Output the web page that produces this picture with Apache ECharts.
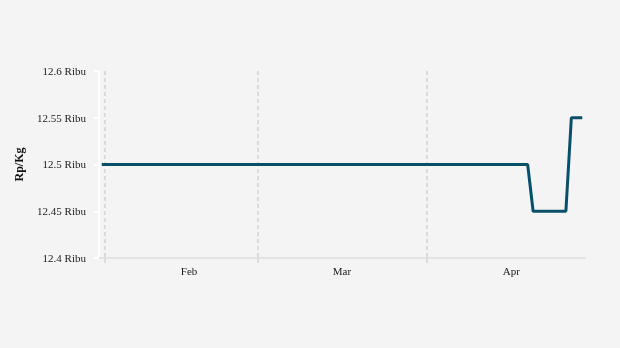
<!DOCTYPE html>
<html>
<head>
<meta charset="utf-8">
<script src="https://cdn.jsdelivr.net/npm/echarts@6/dist/echarts.min.js"></script>
<style>
  html, body { margin: 0; padding: 0; background: #f4f4f4; }
  #chart { width: 620px; height: 348px; }
</style>
</head>
<body>
<div id="chart"></div>
<script>
// Daily dates (Jan 31 – Apr 29, 2023)
const startDate = '2023-01-31';
const endDate = '2023-04-29';
const monthNames = ['Jan','Feb','Mar','Apr','May','Jun','Jul','Aug','Sep','Oct','Nov','Dec'];
// Price segments (Ribu Rp/Kg)
const priceRuns = [
  { from: '2023-01-31', to: '2023-04-19', value: 12.5 },
  { from: '2023-04-20', to: '2023-04-26', value: 12.45 },
  { from: '2023-04-27', to: '2023-04-29', value: 12.55 }
];
const yTicks = [12.4, 12.45, 12.5, 12.55, 12.6];

function ymd(d) {
  const m = String(d.getUTCMonth() + 1).padStart(2, '0');
  const day = String(d.getUTCDate()).padStart(2, '0');
  return d.getUTCFullYear() + '-' + m + '-' + day;
}
function dayList(from, extraDays) {
  const out = [];
  const d = new Date(from + 'T00:00:00Z');
  const end = new Date(endDate + 'T00:00:00Z');
  end.setUTCDate(end.getUTCDate() + extraDays);
  for (; d <= end; d.setUTCDate(d.getUTCDate() + 1)) out.push(ymd(d));
  return out;
}
// data days (band centres) and day boundaries (midnights, one more than days)
const dates = dayList(startDate, 0);
const boundaries = dayList(startDate, 1);
const prices = dates.map(function (ds) {
  for (const r of priceRuns) {
    if (ds >= r.from && ds <= r.to) return r.value;
  }
  return null;
});
function dayOf(ds) { return parseInt(ds.slice(8, 10), 10); }
function isMonthStart(i, v) { return dayOf(v) === 1; }

const chart = echarts.init(document.getElementById('chart'), null, { renderer: 'canvas' });
chart.setOption({
  backgroundColor: '#f4f4f4',
  animation: false,
  grid: { left: 99, right: 35, top: 71, bottom: 90 },
  xAxis: [{
    type: 'category',
    data: dates,
    boundaryGap: true,
    position: 'bottom',
    axisLine: { show: true, lineStyle: { color: '#e3e3e3', width: 2 } },
    axisTick: { show: false },
    splitLine: { show: false },
    axisLabel: {
      interval: function (i, v) { return dayOf(v) === 16; },
      formatter: function (v) { return monthNames[parseInt(v.slice(5, 7), 10) - 1]; },
      fontFamily: 'Liberation Serif',
      fontSize: 11,
      color: '#222',
      margin: 9
    }
  }, {
    type: 'category',
    data: boundaries,
    boundaryGap: false,
    position: 'bottom',
    axisLine: { show: false },
    axisLabel: { show: false },
    axisTick: {
      show: true,
      length: 5,
      interval: isMonthStart,
      lineStyle: { color: '#dddddd', width: 2 }
    },
    splitLine: {
      show: true,
      interval: isMonthStart,
      lineStyle: { color: '#dcdcdc', width: 2, type: [4, 3] }
    }
  }],
  yAxis: {
    type: 'value',
    min: yTicks[0],
    max: yTicks[yTicks.length - 1],
    interval: 0.05,
    name: 'Rp/Kg',
    nameLocation: 'middle',
    nameGap: 62,
    nameRotate: 90,
    nameTextStyle: { fontFamily: 'Liberation Serif', fontSize: 12, fontWeight: 'bold', color: '#111' },
    axisLine: { show: true, lineStyle: { color: '#ffffff', width: 2 } },
    axisTick: { show: true, length: 5, lineStyle: { color: '#ffffff', width: 2 } },
    splitLine: { show: false },
    axisLabel: {
      formatter: function (v) { return '{t|' + (+v.toFixed(2)) + ' Ribu}'; },
      fontFamily: 'Liberation Serif',
      fontSize: 11,
      color: '#222',
      margin: 13,
      rich: {
        t: { fontFamily: 'Liberation Serif', fontSize: 11, color: '#222', padding: [2, 0, 0, 0] }
      }
    }
  },
  series: [{
    type: 'line',
    xAxisIndex: 0,
    data: prices,
    showSymbol: false,
    symbol: 'none',
    lineStyle: { color: '#084f6a', width: 3 },
    itemStyle: { color: '#084f6a' }
  }]
});
</script>
</body>
</html>
